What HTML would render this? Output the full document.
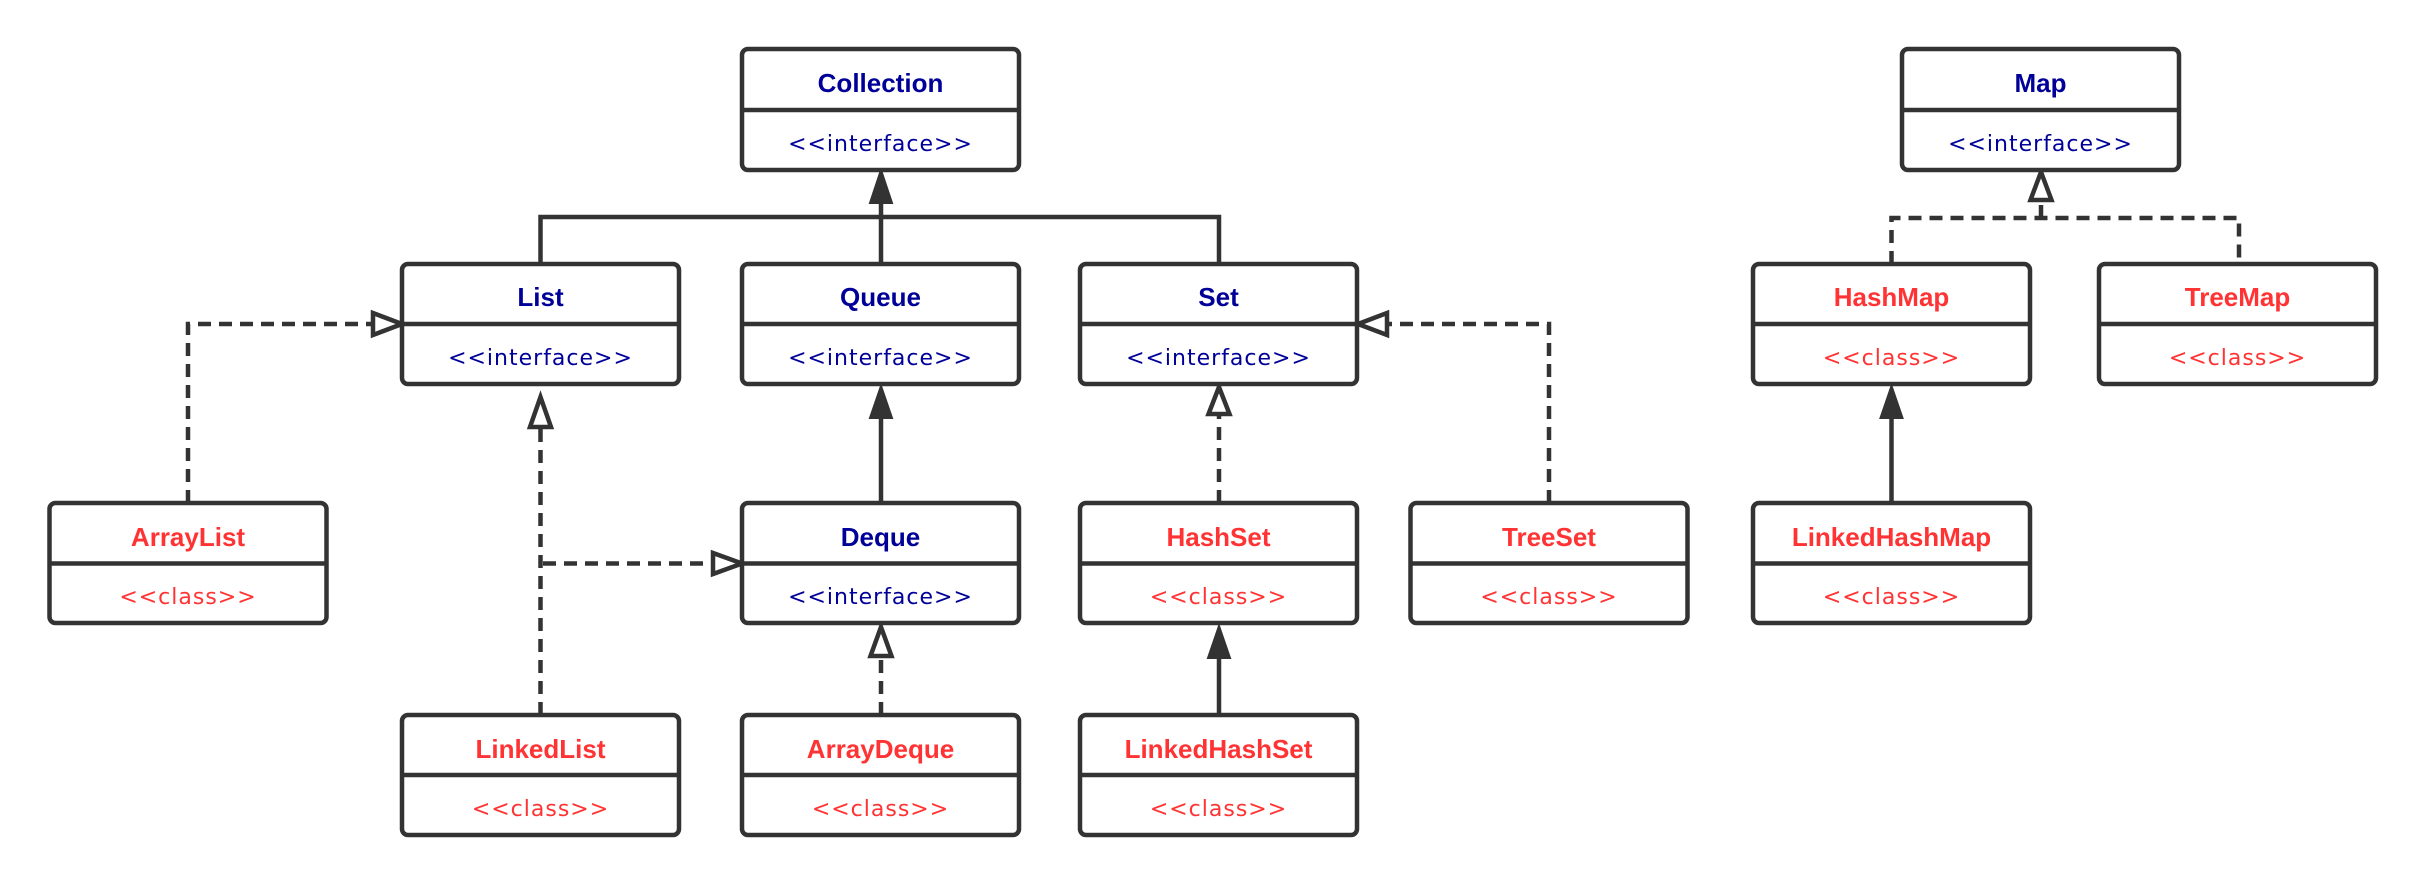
<!DOCTYPE html>
<html><head><meta charset="utf-8"><style>
html,body{margin:0;padding:0;background:#fff;}
svg{display:block;}
.b{fill:#fff;stroke:#333;stroke-width:4.5;}
.d{stroke:#333;stroke-width:4.5;}
.t{font-family:"Liberation Sans","Noto Sans CJK SC",sans-serif;font-weight:bold;font-size:26px;text-anchor:middle;}
.s{font-family:"DejaVu Sans","Liberation Sans",sans-serif;font-size:22px;letter-spacing:1px;text-anchor:middle;}
.bl{fill:#000099;} .rd{fill:#ff3333;}
.ln{stroke:#333;stroke-width:4.5;fill:none;}
.da{stroke:#333;stroke-width:4.5;fill:none;stroke-dasharray:13 8;}
.fa{fill:#333;stroke:#333;stroke-width:2;}
.ha{fill:#fff;stroke:#333;stroke-width:4.5;}
</style></head><body>
<svg width="2425" height="884" viewBox="0 0 2425 884" xmlns="http://www.w3.org/2000/svg">
<polyline class="ln" points="540.5,264 540.5,217 1219,217 1219,264"/>
<line class="ln" x1="881" y1="264" x2="881" y2="200"/>
<polygon class="fa" points="881,170 870,203 892,203"/>
<line class="ln" x1="881" y1="503" x2="881" y2="410"/>
<polygon class="fa" points="881,386 870,418 892,418"/>
<polyline class="da" points="188,503 188,324 372,324"/>
<polygon class="ha" points="402,324 373,313 373,335"/>
<line class="da" x1="540.5" y1="715" x2="540.5" y2="427"/>
<polygon class="ha" points="540.5,397 530,427 551,427"/>
<line class="da" x1="543" y1="563.5" x2="712" y2="563.5"/>
<polygon class="ha" points="742,563.5 713,553 713,574"/>
<line class="da" x1="881" y1="715" x2="881" y2="655"/>
<polygon class="ha" points="881,627 870.5,656 891.5,656"/>
<line class="da" x1="1219" y1="503" x2="1219" y2="414"/>
<polygon class="ha" points="1219,387 1208.5,414 1229.5,414"/>
<line class="ln" x1="1219" y1="715" x2="1219" y2="650"/>
<polygon class="fa" points="1219,626 1208,658 1230,658"/>
<polyline class="da" points="1549,503 1549,324 1387,324"/>
<polygon class="ha" points="1358,324 1387,313 1387,335"/>
<polyline class="da" points="1891.5,264 1891.5,218 2239,218 2239,264"/>
<line class="da" x1="2041" y1="218" x2="2041" y2="199"/>
<polygon class="ha" points="2041,172 2030.5,200 2051.5,200"/>
<line class="ln" x1="1891.5" y1="503" x2="1891.5" y2="410"/>
<polygon class="fa" points="1891.5,386 1880.5,418 1902.5,418"/>

<g>
<rect class="b" x="742" y="49" width="277" height="121" rx="6"/><line class="d" x1="742" y1="110" x2="1019" y2="110"/>
<text class="t bl" x="880.5" y="92">Collection</text><text class="s bl" x="880.5" y="151">&lt;&lt;interface&gt;&gt;</text>

<rect class="b" x="402" y="264" width="277" height="120" rx="6"/><line class="d" x1="402" y1="324" x2="679" y2="324"/>
<text class="t bl" x="540.5" y="306">List</text><text class="s bl" x="540.5" y="365">&lt;&lt;interface&gt;&gt;</text>

<rect class="b" x="742" y="264" width="277" height="120" rx="6"/><line class="d" x1="742" y1="324" x2="1019" y2="324"/>
<text class="t bl" x="880.5" y="306">Queue</text><text class="s bl" x="880.5" y="365">&lt;&lt;interface&gt;&gt;</text>

<rect class="b" x="1080" y="264" width="277" height="120" rx="6"/><line class="d" x1="1080" y1="324" x2="1357" y2="324"/>
<text class="t bl" x="1218.5" y="306">Set</text><text class="s bl" x="1218.5" y="365">&lt;&lt;interface&gt;&gt;</text>

<rect class="b" x="1902" y="49" width="277" height="121" rx="6"/><line class="d" x1="1902" y1="110" x2="2179" y2="110"/>
<text class="t bl" x="2040.5" y="92">Map</text><text class="s bl" x="2040.5" y="151">&lt;&lt;interface&gt;&gt;</text>

<rect class="b" x="49.5" y="503" width="277" height="120" rx="6"/><line class="d" x1="49.5" y1="563.5" x2="326.5" y2="563.5"/>
<text class="t rd" x="188" y="546">ArrayList</text><text class="s rd" x="188" y="604">&lt;&lt;class&gt;&gt;</text>

<rect class="b" x="742" y="503" width="277" height="120" rx="6"/><line class="d" x1="742" y1="563.5" x2="1019" y2="563.5"/>
<text class="t bl" x="880.5" y="546">Deque</text><text class="s bl" x="880.5" y="604">&lt;&lt;interface&gt;&gt;</text>

<rect class="b" x="1080" y="503" width="277" height="120" rx="6"/><line class="d" x1="1080" y1="563.5" x2="1357" y2="563.5"/>
<text class="t rd" x="1218.5" y="546">HashSet</text><text class="s rd" x="1218.5" y="604">&lt;&lt;class&gt;&gt;</text>

<rect class="b" x="1410.5" y="503" width="277" height="120" rx="6"/><line class="d" x1="1410.5" y1="563.5" x2="1687.5" y2="563.5"/>
<text class="t rd" x="1549" y="546">TreeSet</text><text class="s rd" x="1549" y="604">&lt;&lt;class&gt;&gt;</text>

<rect class="b" x="1753" y="264" width="277" height="120" rx="6"/><line class="d" x1="1753" y1="324" x2="2030" y2="324"/>
<text class="t rd" x="1891.5" y="306">HashMap</text><text class="s rd" x="1891.5" y="365">&lt;&lt;class&gt;&gt;</text>

<rect class="b" x="2099" y="264" width="277" height="120" rx="6"/><line class="d" x1="2099" y1="324" x2="2376" y2="324"/>
<text class="t rd" x="2237.5" y="306">TreeMap</text><text class="s rd" x="2237.5" y="365">&lt;&lt;class&gt;&gt;</text>

<rect class="b" x="1753" y="503" width="277" height="120" rx="6"/><line class="d" x1="1753" y1="563.5" x2="2030" y2="563.5"/>
<text class="t rd" x="1891.5" y="546">LinkedHashMap</text><text class="s rd" x="1891.5" y="604">&lt;&lt;class&gt;&gt;</text>

<rect class="b" x="402" y="715" width="277" height="120" rx="6"/><line class="d" x1="402" y1="775" x2="679" y2="775"/>
<text class="t rd" x="540.5" y="758">LinkedList</text><text class="s rd" x="540.5" y="816">&lt;&lt;class&gt;&gt;</text>

<rect class="b" x="742" y="715" width="277" height="120" rx="6"/><line class="d" x1="742" y1="775" x2="1019" y2="775"/>
<text class="t rd" x="880.5" y="758">ArrayDeque</text><text class="s rd" x="880.5" y="816">&lt;&lt;class&gt;&gt;</text>

<rect class="b" x="1080" y="715" width="277" height="120" rx="6"/><line class="d" x1="1080" y1="775" x2="1357" y2="775"/>
<text class="t rd" x="1218.5" y="758">LinkedHashSet</text><text class="s rd" x="1218.5" y="816">&lt;&lt;class&gt;&gt;</text>
</g>
</svg>
</body></html>
